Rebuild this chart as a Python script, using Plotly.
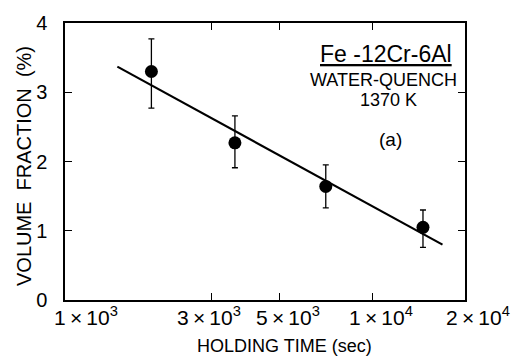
import numpy as np
import plotly.graph_objects as go

# ---- data ----
hold_time = [1910, 3570, 7050, 14600]          # sec
vol_frac = [3.30, 2.27, 1.64, 1.05]            # %
err_plus = [0.47, 0.39, 0.31, 0.25]
err_minus = [0.53, 0.36, 0.31, 0.29]

fit_time = [1480, 16900]
fit_frac = [3.37, 0.80]

x_tick_vals = [1e3, 3e3, 5e3, 1e4, 2e4]
x_tick_text = ["1\u2009×\u200910<sup>3</sup>", "3\u2009×\u200910<sup>3</sup>",
               "5\u2009×\u200910<sup>3</sup>", "1\u2009×\u200910<sup>4</sup>",
               "2\u2009×\u200910<sup>4</sup>"]
x_label_shift = [21, -3, 8, 9, 13]     # px offsets of the hand-lettered labels
y_tick_vals = [0, 1, 2, 3, 4]

FONT = "Liberation Sans, Arial, sans-serif"

fig = go.Figure()

fig.add_trace(go.Scatter(
    x=fit_time, y=fit_frac, mode="lines",
    line=dict(color="black", width=2.2), showlegend=False,
))

fig.add_trace(go.Scatter(
    x=hold_time, y=vol_frac, mode="markers",
    marker=dict(color="black", size=13),
    error_y=dict(type="data", symmetric=False, array=err_plus,
                 arrayminus=err_minus, color="black", thickness=1.3, width=3),
    showlegend=False,
))

axis_common = dict(
    showline=True, linecolor="black", linewidth=1.5, mirror="ticks",
    ticks="inside", ticklen=7, tickwidth=1.3, tickcolor="black",
    showgrid=False, zeroline=False,
)

fig.update_xaxes(
    type="log", range=[np.log10(1e3), np.log10(2e4)],
    tickvals=x_tick_vals, showticklabels=False,
    **axis_common,
)
fig.update_yaxes(
    range=[0, 4], tickvals=y_tick_vals,
    tickfont=dict(family=FONT, size=20, color="black"),
    ticklabelstandoff=12,
    **axis_common,
)

ann = []
for v, t, s in zip(x_tick_vals, x_tick_text, x_label_shift):
    ann.append(dict(
        text=t, xref="x", yref="paper", x=np.log10(v), y=(300 - 316) / 277,
        xshift=s, xanchor="center", yanchor="middle", showarrow=False,
        font=dict(family=FONT, size=21, color="black"),
    ))

notes = [
    dict(text="<u>Fe -12Cr-6Al</u>", x=386, y=54, size=23),
    dict(text="WATER-QUENCH", x=383, y=80, size=18),
    dict(text="1370 K", x=388, y=100, size=18),
    dict(text="(a)", x=390, y=139, size=19),
]
for a in notes:
    ann.append(dict(
        text=a["text"], xref="paper", yref="paper",
        x=(a["x"] - 65) / 400, y=(300 - a["y"]) / 277,
        xanchor="center", yanchor="middle", showarrow=False,
        font=dict(family=FONT, size=a["size"], color="black"),
    ))
ann.append(dict(text="HOLDING TIME (sec)", xref="paper", yref="paper",
                x=(284 - 65) / 400, y=(300 - 346) / 277,
                xanchor="center", yanchor="middle", showarrow=False,
                font=dict(family=FONT, size=18, color="black")))
ann.append(dict(text="VOLUME&nbsp; FRACTION&nbsp; (%)", xref="paper", yref="paper",
                x=(24 - 65) / 400, y=(300 - 166) / 277, textangle=-90,
                xanchor="center", yanchor="middle", showarrow=False,
                font=dict(family=FONT, size=20, color="black")))

fig.update_layout(
    width=518, height=358,
    margin=dict(l=65, r=53, t=23, b=58),
    paper_bgcolor="white", plot_bgcolor="white",
    annotations=ann,
)

fig.write_html("out.html")
